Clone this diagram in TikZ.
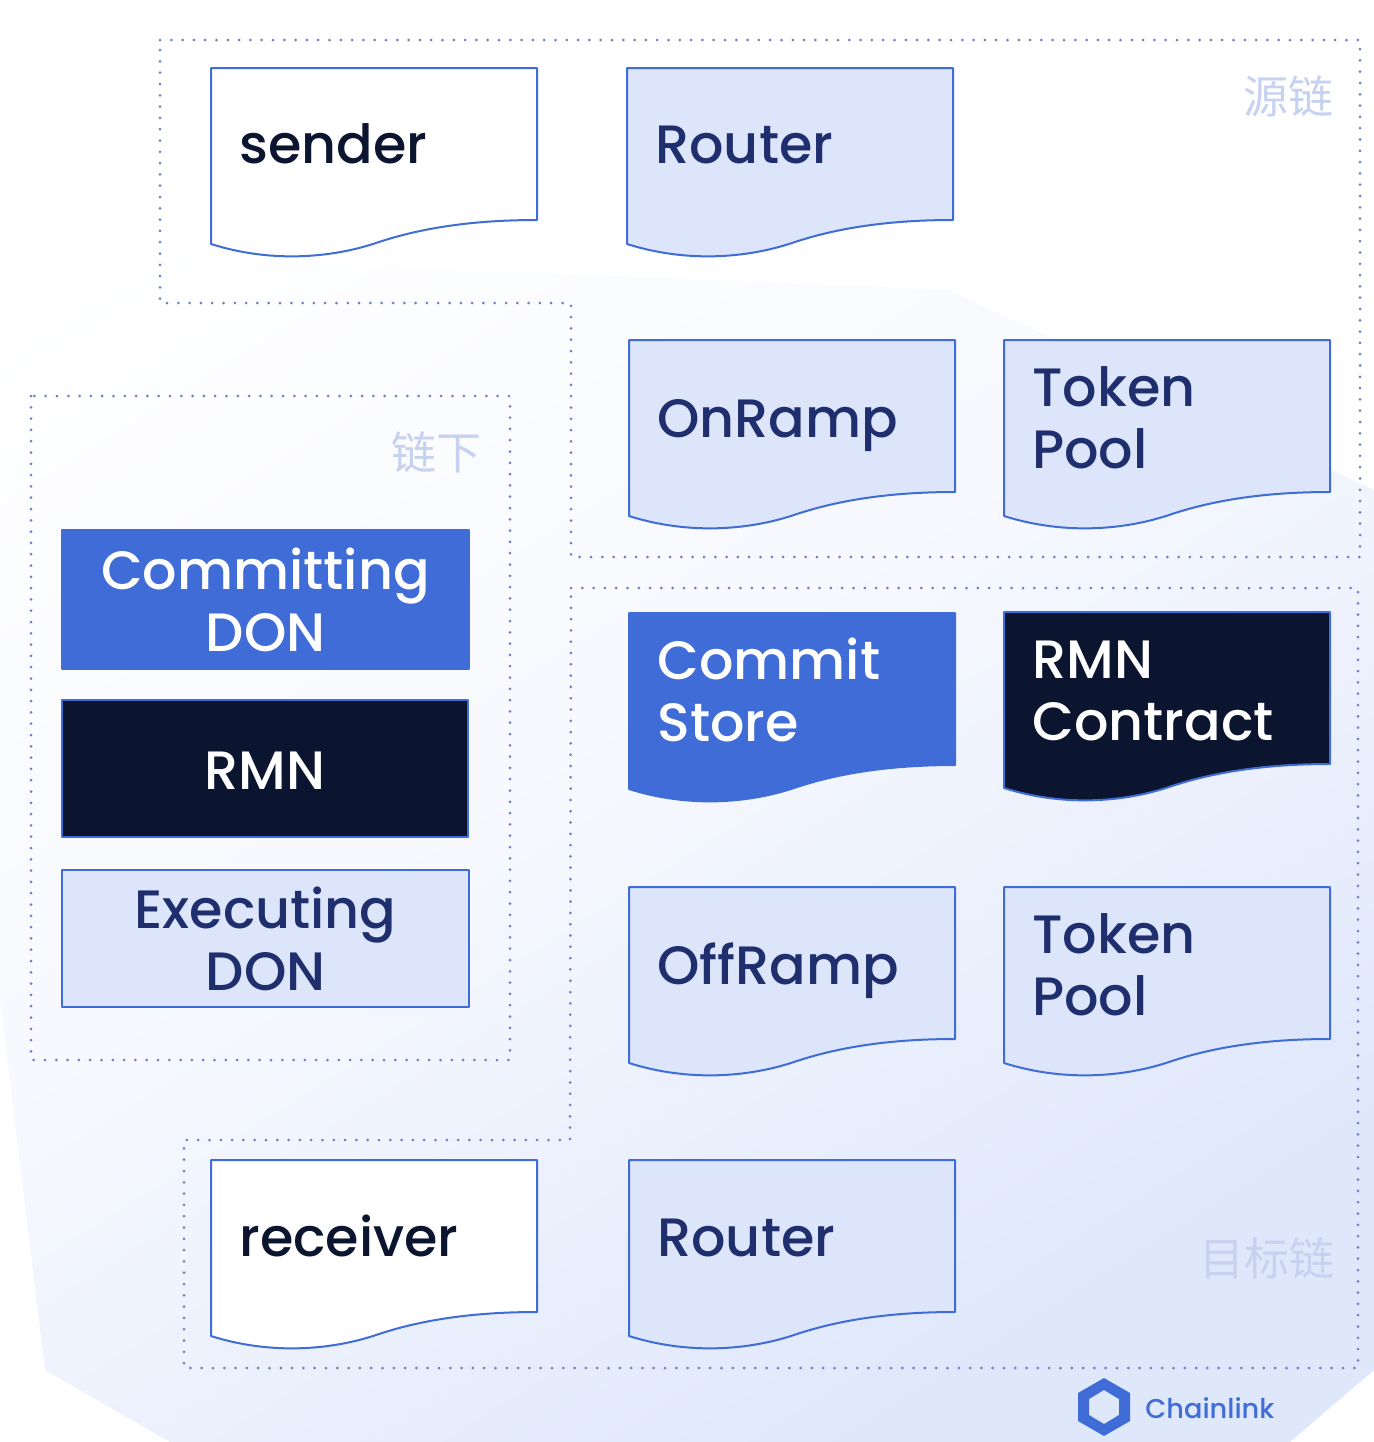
\documentclass[tikz,border=0pt]{standalone}
\usepackage{fontspec}
\setmainfont{Poppins}[UprightFont=* Medium]
\newfontfamily\cjk{Noto Sans CJK SC}
\definecolor{linkblue}{HTML}{3F6CD6}
\definecolor{paleblue}{HTML}{DCE5F9}
\definecolor{navy}{HTML}{0C1530}
\definecolor{inkblue}{HTML}{1F2F6E}
\definecolor{dotblue}{HTML}{6F7FC4}
\definecolor{faint}{HTML}{C6D2F0}
\definecolor{washblue}{HTML}{DFE7FB}
\begin{document}
\begin{tikzpicture}[x=0.5pt,y=-0.5pt,line join=round,
	dotline/.style={dotblue,line width=1.5pt,line cap=round,dash pattern=on 0pt off 5.65pt},
	lightbox/.style={draw=linkblue,fill=paleblue,line width=1pt},
	whitebox/.style={draw=linkblue,fill=white,line width=1pt},
	bluebox/.style={draw=linkblue,fill=linkblue,line width=1pt},
	darkbox/.style={draw=linkblue,fill=navy,line width=1pt},
	lbl/.style={font=\fontsize{27}{31}\selectfont,anchor=base west,align=left,inner sep=0pt},
	midlbl/.style={font=\fontsize{27}{31}\selectfont,align=center,inner sep=0pt},
	zone/.style={font=\cjk\fontsize{22.5}{24}\selectfont,text=faint,inner sep=0pt}]
	\useasboundingbox (0,0) rectangle (1374,1442);
	% nen
	\begin{scope}
		\clip (1374,490)--(1374,1370)--(1290,1442)--(170,1442)--(45,1370)--(0,1000)--(0,250)--(950,290)--cycle;
		\shade[top color=white,bottom color=washblue,middle color=white!72!washblue,shading angle=32] (0,0) rectangle (1374,1442);
	\end{scope}
	% vung cham
	\draw[dotline] (160,40)--(1360,40)--(1360,557)--(571,557)--(571,303)--(160,303)--cycle;
	\draw[dotline] (31,396) rectangle (510,1060);
	\draw[dotline] (571,588)--(1358,588)--(1358,1368)--(184,1368)--(184,1140)--(570,1140)--cycle;
	\node[zone] (srcchain) at (1288,96) {源链};
	\node[zone] (offchain) at (436,452) {链下};
	\node[zone] (dstchain) at (1267,1258) {目标链};
	% hop co song duoi: ten, x, y, kieu, mau chu, duong chan chu, chu
	\def\docbox#1#2#3#4#5#6#7{
		\begin{scope}[shift={(#2,#3)}]
			\draw[#4] (0,0)--(326,0)--(326,152) .. controls (270,152) and (215,158) .. (165,175) .. controls (120,190) and (60,195) .. (0,176)--cycle;
			\node[lbl,text=#5] (#1) at (28,#6) {#7};
		\end{scope}
	}
	\docbox{sender}{211}{68}{whitebox}{navy}{95}{sender}
	\docbox{routersrc}{627}{68}{lightbox}{inkblue}{95}{Router}
	\docbox{onramp}{629}{340}{lightbox}{inkblue}{97}{OnRamp}
	\docbox{poolsrc}{1004}{340}{lightbox}{inkblue}{128}{Token\\Pool}
	\docbox{commit}{629}{613}{bluebox}{white}{128}{Commit\\Store}
	\docbox{rmnc}{1004}{612}{darkbox}{white}{128}{RMN\\Contract}
	\docbox{offramp}{629}{887}{lightbox}{inkblue}{97}{OffRamp}
	\docbox{pooldst}{1004}{887}{lightbox}{inkblue}{128}{Token\\Pool}
	\docbox{receiver}{211}{1160}{whitebox}{navy}{96}{receiver}
	\docbox{routerdst}{629}{1160}{lightbox}{inkblue}{96}{Router}
	% khoi chu nhat
	\draw[bluebox] (62,530) rectangle (469,669);
	\node[midlbl,text=white] (cdon) at (265.5,600) {Committing\\DON};
	\draw[darkbox] (62,700) rectangle (468,837);
	\node[midlbl,text=white] (rmn) at (265,771) {RMN};
	\draw[lightbox] (62,870) rectangle (469,1007);
	\node[midlbl,text=inkblue] (edon) at (265.5,939) {Executing\\DON};
	% logo
	\fill[linkblue,even odd rule] (1104,1378)--(1130,1393)--(1130,1421)--(1104,1436)--(1078,1421)--(1078,1393)--cycle
		(1104,1390)--(1119,1399)--(1119,1415)--(1104,1424)--(1089,1415)--(1089,1399)--cycle;
	\node[font=\fontsize{13.6}{16}\selectfont,text=linkblue,anchor=west,inner sep=0pt] (brand) at (1145,1408) {Chainlink};
\end{tikzpicture}
\end{document}
